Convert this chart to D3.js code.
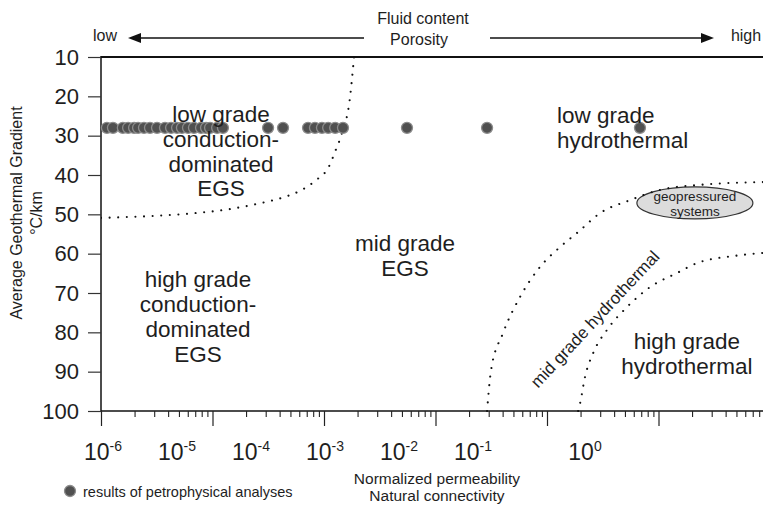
<!DOCTYPE html>
<html><head><meta charset="utf-8">
<script src="https://cdn.jsdelivr.net/npm/d3@7"></script>
<style>
html,body{margin:0;padding:0;background:#fff;}
svg{display:block;font-family:"Liberation Sans",Arial,sans-serif;}
</style></head>
<body>
<svg id="chart" width="763" height="511"></svg>
<script>
// ---- data ----
const yTicks = [10,20,30,40,50,60,70,80,90,100];
const xTickExponents = [-6,-5,-4,-3,-2,-1,0];
// petrophysical analysis results: [normalized permeability, geothermal gradient]
const samplePerm = [1.13e-6,1.28e-6,1.57e-6,1.75e-6,1.98e-6,2.15e-6,2.43e-6,2.75e-6,3.18e-6,3.75e-6,
  4.25e-6,4.81e-6,5.32e-6,6.03e-6,6.82e-6,7.89e-6,8.75e-6,9.51e-6,1.10e-5,1.24e-5,
  3.15e-5,4.29e-5,7.19e-5,8.30e-5,9.59e-5,1.09e-4,1.26e-4,1.48e-4,5.55e-4,2.90e-3,6.82e-2];
const sampleGrad = samplePerm.map(() => 28);
// boundary curves: permeability / gradient
const lowCondPerm = [1e-6,2.5e-6,6.9e-6,1.4e-5,2.75e-5,4.2e-5,6.3e-5,8.5e-5,1.1e-4,1.26e-4,1.45e-4,1.7e-4,1.86e-4];
const lowCondGrad = [50.9,50.5,49.7,48.7,47.1,45.8,43.8,41.3,38.0,34.0,29.3,20.9,10.0];
const midHydroPerm = [2.90e-3,3.15e-3,4.03e-3,5.73e-3,8.65e-3,1.31e-2,1.90e-2,2.99e-2,5.55e-2,0.103,0.236,0.865];
const midHydroGrad = [100,89.6,80.2,71.0,63.4,58.3,54.5,49.7,46.4,43.8,42.5,41.8];
const highHydroPerm = [1.90e-2,1.98e-2,2.19e-2,2.59e-2,3.45e-2,5.21e-2,8.39e-2,0.147,0.221,0.5,0.865];
const highHydroGrad = [100,98.0,91.4,85.3,79.4,73.6,68.5,64.9,62.4,60.5,59.8];
// region labels: lines, permeability, gradient (anchor of first baseline), alignment
const regionLines = [
  ["low grade","conduction-","dominated","EGS"],
  ["low grade","hydrothermal"],
  ["mid grade","EGS"],
  ["high grade","conduction-","dominated","EGS"],
  ["high grade","hydrothermal"]
];
const regionPerm = [1.19e-5, 0.0123, 5.32e-4, 7.41e-6, 0.180];
const regionGrad = [26.5, 26.8, 59.3, 68.5, 84.3];
const regionAnchor = ["middle","start","middle","middle","middle"];

// ---- layout ----
const W = 763, H = 511;
const svg = d3.select("#chart");
const x = d3.scaleLog().domain([1e-6, 1]).range([101, 770]);
const y = d3.scaleLinear().domain([10, 100]).range([57, 411]);
// tick label positions as printed in the original figure
const xLabel = d3.scaleLinear().domain([-6, -1, 0]).range([103, 473, 585]);
const ink = "#1e1e1e";

svg.append("defs").append("clipPath").attr("id","plotclip")
  .append("rect").attr("x",101).attr("y",56).attr("width",W-101).attr("height",356);

// top border
svg.append("line").attr("x1",101).attr("x2",W).attr("y1",y(10)).attr("y2",y(10))
  .attr("stroke","#111").attr("stroke-width",2);

// y axis
const yAxis = svg.append("g").attr("transform","translate(101,0)")
  .call(d3.axisLeft(y).tickValues(yTicks).tickSize(13).tickPadding(9).tickFormat(d3.format("d")));
yAxis.select(".domain").attr("stroke","#111").attr("stroke-width",1.5).attr("d","M0,56V411");
yAxis.selectAll(".tick line").attr("stroke","#333").attr("stroke-width",1.2);
yAxis.selectAll(".tick text").attr("font-size",22).attr("fill",ink).attr("font-family","Liberation Sans, Arial, sans-serif");

// x axis: majors and minors
const majors = [], minors = [];
for (let e = -6; e <= 0; e++) {
  majors.push(Math.pow(10, e));
  if (e < 0) for (let k = 2; k <= 9; k++) minors.push(k * Math.pow(10, e));
}
const xMaj = svg.append("g").attr("transform","translate(0,411)")
  .call(d3.axisBottom(x).tickValues(majors).tickSize(15).tickFormat(""));
xMaj.select(".domain").attr("stroke","#111").attr("stroke-width",1.5).attr("d","M101,0H"+W);
xMaj.selectAll(".tick line").attr("stroke","#222").attr("stroke-width",1.2);
const xMin = svg.append("g").attr("transform","translate(0,411)")
  .call(d3.axisBottom(x).tickValues(minors).tickSize(6).tickFormat(""));
xMin.select(".domain").remove();
xMin.selectAll(".tick line").attr("stroke","#222").attr("stroke-width",1.1);

// x tick labels (10^n)
const lab = svg.append("g").attr("fill",ink);
xTickExponents.forEach(e => {
  const t = lab.append("text").attr("x", xLabel(e)).attr("y", 460)
    .attr("text-anchor","middle").attr("font-size",23);
  t.append("tspan").text("10");
  t.append("tspan").attr("font-size",14).attr("dy",-9).text(e === 0 ? "0" : "-" + (-e));
});

// geopressured ellipse
const geoPerm = 0.212, geoGrad = 47.1;
svg.append("ellipse").attr("cx",x(geoPerm)).attr("cy",y(geoGrad)).attr("rx",58).attr("ry",16)
  .attr("fill","#dcdcdc").attr("stroke","#333").attr("stroke-width",1.2);
svg.append("text").attr("x",x(geoPerm)).attr("y",y(geoGrad)-2).attr("text-anchor","middle")
  .attr("font-size",13.5).attr("fill",ink).text("geopressured");
svg.append("text").attr("x",x(geoPerm)).attr("y",y(geoGrad)+13).attr("text-anchor","middle")
  .attr("font-size",13.5).attr("fill",ink).text("systems");

// dotted boundaries
const line = d3.line().x(d => x(d[0])).y(d => y(d[1])).curve(d3.curveMonotoneX);
const gCurves = svg.append("g").attr("clip-path","url(#plotclip)");
[[lowCondPerm,lowCondGrad],[midHydroPerm,midHydroGrad],[highHydroPerm,highHydroGrad]].forEach(([px,gy]) => {
  gCurves.append("path").datum(px.map((v,i)=>[v,gy[i]])).attr("d",line)
    .attr("fill","none").attr("stroke","#111").attr("stroke-width",2.1)
    .attr("stroke-linecap","round").attr("stroke-dasharray","0.01 8.6");
});

// sample points
svg.append("g").selectAll("circle").data(samplePerm).join("circle")
  .attr("cx",d=>x(d)).attr("cy",(d,i)=>y(sampleGrad[i])).attr("r",5.5)
  .attr("fill","#505050").attr("stroke","#8c8c8c").attr("stroke-width",1.3);

// region labels
regionLines.forEach((lines,i) => {
  const t = svg.append("text").attr("text-anchor",regionAnchor[i]).attr("font-size",22.5).attr("fill",ink);
  lines.forEach((s,j) => t.append("tspan").attr("x",x(regionPerm[i])).attr("y",y(regionGrad[i]) + j*24.8).text(s));
});
// rotated mid grade hydrothermal
const mgPerm = 0.0269, mgGrad = 76.6;
svg.append("text").attr("transform",`translate(${x(mgPerm)},${y(mgGrad)}) rotate(-47)`)
  .attr("text-anchor","middle").attr("dy","0.35em").attr("font-size",17).attr("fill",ink).text("mid grade hydrothermal");

// y title
svg.append("text").attr("transform","translate(22,213) rotate(-90)").attr("text-anchor","middle")
  .attr("font-size",16).attr("fill",ink).text("Average Geothermal Gradient");
svg.append("text").attr("transform","translate(42,213) rotate(-90)").attr("text-anchor","middle")
  .attr("font-size",16).attr("fill",ink).text("°C/km");

// x title
svg.append("text").attr("x",437).attr("y",484).attr("text-anchor","middle").attr("font-size",15.5).attr("fill",ink).text("Normalized permeability");
svg.append("text").attr("x",437).attr("y",501).attr("text-anchor","middle").attr("font-size",15.5).attr("fill",ink).text("Natural connectivity");

// legend
svg.append("circle").attr("cx",70).attr("cy",491).attr("r",5.5).attr("fill","#505050").attr("stroke","#8c8c8c").attr("stroke-width",1.3);
svg.append("text").attr("x",83).attr("y",497).attr("font-size",14.5).attr("fill",ink).text("results of petrophysical analyses");

// top annotation: fluid content / porosity
svg.append("text").attr("x",423).attr("y",24).attr("text-anchor","middle").attr("font-size",16).attr("fill",ink).text("Fluid content");
svg.append("text").attr("x",419).attr("y",45).attr("text-anchor","middle").attr("font-size",16).attr("fill",ink).text("Porosity");
svg.append("text").attr("x",105).attr("y",41).attr("text-anchor","middle").attr("font-size",16).attr("fill",ink).text("low");
svg.append("text").attr("x",746).attr("y",41).attr("text-anchor","middle").attr("font-size",16).attr("fill",ink).text("high");
const ay = 38;
svg.append("line").attr("x1",138).attr("x2",364).attr("y1",ay).attr("y2",ay).attr("stroke","#111").attr("stroke-width",1.5);
svg.append("path").attr("d",`M128,${ay} L141,${ay-5} L141,${ay+5} Z`).attr("fill","#111");
svg.append("line").attr("x1",490).attr("x2",703).attr("y1",ay).attr("y2",ay).attr("stroke","#111").attr("stroke-width",1.5);
svg.append("path").attr("d",`M714,${ay} L701,${ay-5} L701,${ay+5} Z`).attr("fill","#111");
</script>
</body></html>
